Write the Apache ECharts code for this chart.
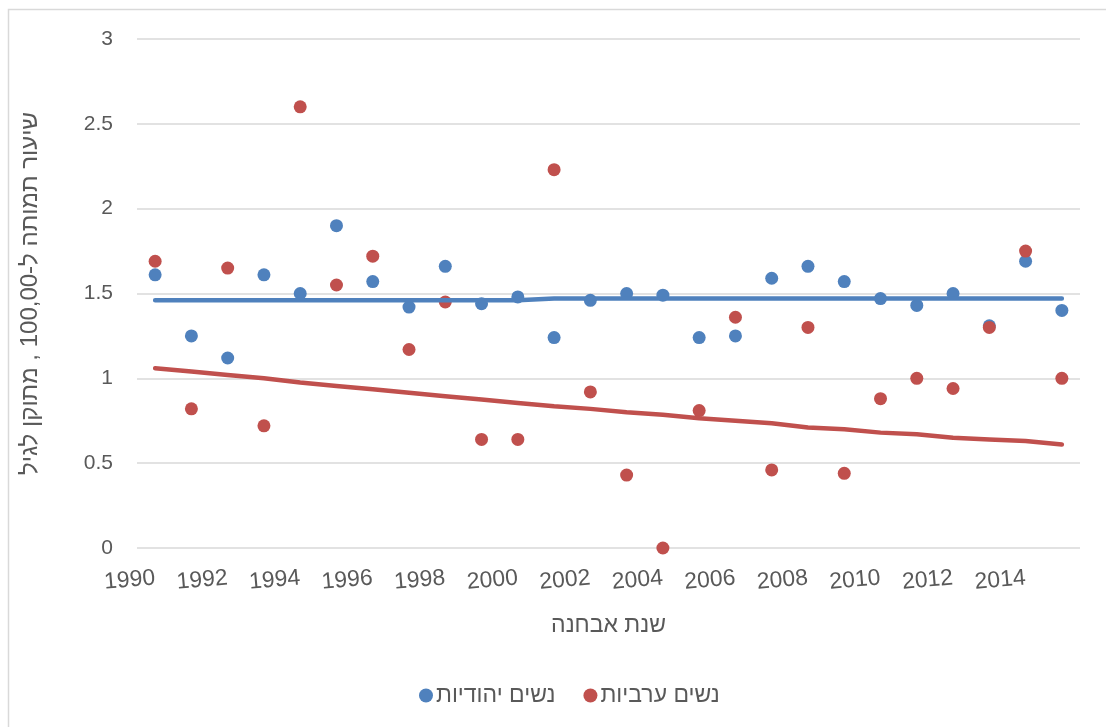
<!DOCTYPE html>
<html>
<head>
<meta charset="utf-8">
<script src="https://cdn.jsdelivr.net/npm/echarts@6/dist/echarts.min.js"></script>
<style>
  html, body { margin: 0; padding: 0; background: #fff; }
  #chart { width: 1106px; height: 727px; }
</style>
</head>
<body>
<div id="chart"></div>
<script>
// Diagnosis years
const years = ['1990','1991','1992','1993','1994','1995','1996','1997','1998','1999','2000','2001','2002',
               '2003','2004','2005','2006','2007','2008','2009','2010','2011','2012','2013','2014','2015'];

// Age-adjusted rate, Jewish women
const jewishRates = [1.61,1.25,1.12,1.61,1.50,1.90,1.57,1.42,1.66,1.44,1.48,1.24,1.46,
                     1.50,1.49,1.24,1.25,1.59,1.66,1.57,1.47,1.43,1.50,1.31,1.69,1.40];

// Age-adjusted rate, Arab women
const arabRates = [1.69,0.82,1.65,0.72,2.60,1.55,1.72,1.17,1.45,0.64,0.64,2.23,0.92,
                   0.43,0.00,0.81,1.36,0.46,1.30,0.44,0.88,1.00,0.94,1.30,1.75,1.00];

// Trend lines
const jewishTrend = [1.46,1.46,1.46,1.46,1.46,1.46,1.46,1.46,1.46,1.46,1.46,1.47,1.47,
                     1.47,1.47,1.47,1.47,1.47,1.47,1.47,1.47,1.47,1.47,1.47,1.47,1.47];
const arabTrend = [1.06,1.04,1.02,1.00,0.975,0.955,0.935,0.915,0.895,0.875,0.855,0.835,0.82,
                   0.80,0.785,0.765,0.75,0.735,0.71,0.70,0.68,0.67,0.65,0.64,0.63,0.61];

const seriesNames = ['נשים יהודיות', 'נשים ערביות'];
const xTitle = 'שנת אבחנה';
const yTitle = 'שיעור תמותה ל-100,00 , מתוקן לגיל';

const BLUE = '#4F81BD';
const RED = '#C0504D';
const TEXT = '#595959';
const FONT = '"Liberation Sans", "DejaVu Sans", Arial, sans-serif';

const chart = echarts.init(document.getElementById('chart'), null, { renderer: 'canvas' });

chart.setOption({
  animation: false,
  backgroundColor: '#fff',
  textStyle: { fontFamily: FONT, color: TEXT },
  graphic: [{
    type: 'polyline',
    silent: true,
    shape: { points: [[8.5, 740], [8.5, 9.5], [1120, 9.5]] },
    style: { stroke: '#D9D9D9', lineWidth: 1.5, fill: null }
  }],
  grid: { left: 137, right: 26, top: 39, bottom: 179 },
  legend: {
    left: 414,
    top: 679,
    itemGap: 28,
    itemWidth: 14,
    itemHeight: 14,
    icon: 'circle',
    textStyle: { fontSize: 23, color: TEXT, fontFamily: FONT, padding: [0, 0, 0, -2] },
    data: seriesNames
  },
  xAxis: {
    type: 'category',
    data: years,
    boundaryGap: true,
    axisLine: { show: false },
    axisTick: { show: false },
    axisLabel: {
      interval: 1,
      rotate: 5,
      margin: 30,
      fontSize: 23,
      color: TEXT,
      fontFamily: FONT
    },
    name: xTitle,
    nameLocation: 'middle',
    nameGap: 66,
    nameTextStyle: { fontSize: 23, color: TEXT, fontFamily: FONT }
  },
  yAxis: {
    type: 'value',
    min: 0,
    max: 3,
    interval: 0.5,
    axisLine: { show: false },
    axisTick: { show: false },
    axisLabel: { margin: 24, fontSize: 21, color: TEXT, fontFamily: FONT },
    splitLine: { lineStyle: { color: '#D9D9D9', width: 1.5 } },
    name: yTitle,
    nameLocation: 'middle',
    nameRotate: 90,
    nameGap: 95,
    nameTextStyle: { fontSize: 24, color: TEXT, fontFamily: FONT }
  },
  series: [
    {
      name: 'jewish-trend',
      type: 'line',
      data: jewishTrend,
      showSymbol: false,
      lineStyle: { color: BLUE, width: 4.5, cap: 'round' },
      itemStyle: { color: BLUE },
      silent: true
    },
    {
      name: 'arab-trend',
      type: 'line',
      data: arabTrend,
      showSymbol: false,
      lineStyle: { color: RED, width: 4.5, cap: 'round' },
      itemStyle: { color: RED },
      silent: true
    },
    {
      name: seriesNames[0],
      type: 'scatter',
      data: jewishRates,
      symbol: 'circle',
      symbolSize: 13,
      itemStyle: { color: BLUE, opacity: 1 }
    },
    {
      name: seriesNames[1],
      type: 'scatter',
      data: arabRates,
      symbol: 'circle',
      symbolSize: 13,
      itemStyle: { color: RED, opacity: 1 }
    }
  ]
});
</script>
</body>
</html>
